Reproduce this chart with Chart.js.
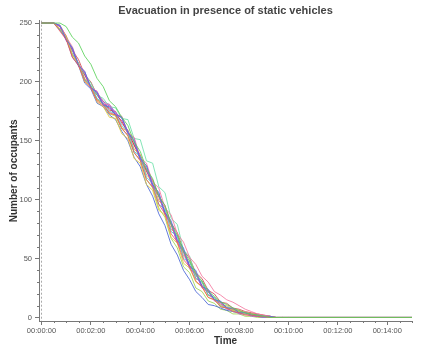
<!DOCTYPE html>
<html lang="en">
<head>
  <meta charset="UTF-8">
  <title>Evacuation in presence of static vehicles</title>
  <script src="https://cdn.jsdelivr.net/npm/chart.js"></script>
  <style>
    html, body { margin: 0; padding: 0; background: #fff; }
  </style>
</head>
<body>
  <canvas id="evacChart" width="433" height="352"></canvas>

  <script>
    // time in seconds since start of the evacuation
    const times = [0, 15, 30, 45, 60, 75, 90, 105, 120, 135, 150, 165, 180, 195, 210, 225, 240, 255, 270, 285,
                   300, 315, 330, 345, 360, 375, 390, 405, 420, 435, 450, 465, 480, 495, 510, 525, 540, 555, 570, 585, 600, 900];

    // occupants still inside, one array per simulation run
    const run01 = [250,250,250,250,247,238,233,222,215,203,196,184,179,170,163,149,141,126,118,103,95,79,70,56,48,37,31,22,18,13,11,8,6,4,3,2,1,0,0,0,0,0];
    const run02 = [250,250,250,243,236,221,214,201,195,184,180,174,172,161,154,140,133,117,111,96,88,71,64,49,43,31,26,17,15,9,8,5,4,2,2,1,1,0,0,0,0,0];
    const run03 = [250,250,250,248,236,229,214,209,195,191,180,179,172,170,157,150,135,129,113,106,89,82,66,59,43,40,26,24,15,14,8,8,4,4,2,2,1,1,0,0,0,0];
    const run04 = [250,250,250,245,238,223,215,200,196,183,179,170,169,156,152,135,131,113,108,91,87,68,63,46,42,30,26,17,15,10,8,6,5,3,2,2,1,0,0,0,0,0];
    const run05 = [250,250,250,247,236,228,214,208,195,192,181,180,173,170,156,152,134,129,112,106,88,80,63,57,41,37,25,22,14,12,7,6,3,3,1,1,0,0,0,0,0,0];
    const run06 = [250,250,250,244,238,224,216,202,197,186,182,175,173,163,158,141,137,119,114,96,92,73,69,50,47,33,30,19,17,10,9,6,5,3,2,1,1,0,0,0,0,0];
    const run07 = [250,250,250,248,238,230,215,209,195,192,181,181,172,171,157,153,136,131,115,110,93,87,71,64,51,45,35,30,22,19,15,13,10,7,5,3,2,1,0,0,0,0];
    const run08 = [250,250,250,245,239,223,216,203,197,185,182,173,172,161,158,143,138,121,116,99,94,75,70,52,48,33,30,19,17,11,10,7,6,4,3,2,1,1,0,0,0,0];
    const run09 = [250,250,250,248,237,229,215,207,199,189,186,179,178,169,168,152,151,133,131,111,106,84,79,57,52,35,31,19,16,9,8,5,4,3,2,1,0,0,0,0,0,0];
    const run10 = [250,250,250,244,237,221,214,199,194,182,179,172,168,158,150,136,128,113,103,88,78,62,53,40,32,22,17,11,10,8,6,5,4,3,2,1,0,0,0,0,0,0];
    const run11 = [250,250,250,247,235,228,213,208,196,191,183,181,174,169,158,149,135,126,111,103,87,79,63,55,42,37,26,22,15,13,8,7,5,4,2,2,1,0,0,0,0,0];
    const run12 = [250,250,250,248,239,227,219,206,200,189,184,176,175,165,159,146,138,124,117,103,95,80,72,57,50,38,33,23,20,13,12,8,7,5,4,3,2,1,0,0,0,0];
    const run13 = [250,250,250,244,237,223,215,202,196,185,181,173,171,160,155,140,134,117,110,93,85,67,59,43,38,25,22,14,12,7,6,3,3,1,1,0,0,0,0,0,0,0];
    const run14 = [250,250,250,247,236,227,214,206,195,189,181,178,172,167,156,147,134,125,112,103,89,79,65,56,44,37,27,22,15,13,8,7,5,4,3,2,1,1,0,0,0,0];

    const runs = [run01, run02, run03, run04, run05, run06, run07, run08, run09, run10, run11, run12, run13, run14];
    const runColors = [
      'rgba(90,210,90,0.85)', 'rgba(240,80,90,0.8)', 'rgba(70,110,230,0.8)', 'rgba(225,205,60,0.85)',
      'rgba(180,80,210,0.8)', 'rgba(60,195,210,0.8)', 'rgba(245,120,160,0.85)', 'rgba(240,150,60,0.8)',
      'rgba(110,225,170,0.85)', 'rgba(60,90,210,0.8)', 'rgba(150,100,220,0.8)', 'rgba(205,60,70,0.8)',
      'rgba(150,210,70,0.8)', 'rgba(185,50,120,0.9)'
    ];

    const xTicks = [0, 120, 240, 360, 480, 600, 720, 840];
    const yTicks = [0, 50, 100, 150, 200, 250];

    const tickFont = { family: 'Liberation Sans', size: 7.5 };
    const axisTitleFont = { family: 'Liberation Sans', size: 10, weight: 'bold' };

    function hms(sec) {
      const m = Math.floor(sec / 60);
      return '00:' + String(m).padStart(2, '0') + ':00';
    }

    // small minor tick marks (every 30 s and every 10 occupants)
    const minorTicks = {
      id: 'minorTicks',
      afterDraw(chart) {
        const { ctx, scales: { x, y } } = chart;
        ctx.save();
        ctx.strokeStyle = '#777';
        ctx.lineWidth = 1;
        ctx.beginPath();
        for (let s = 30; s <= 900; s += 30) {
          if (s % 120 === 0) continue;
          const px = Math.round(x.getPixelForValue(s)) + 0.5;
          ctx.moveTo(px, x.top);
          ctx.lineTo(px, x.top + 2);
        }
        for (let v = 10; v <= 250; v += 10) {
          if (v % 50 === 0) continue;
          const py = Math.round(y.getPixelForValue(v)) + 0.5;
          ctx.moveTo(y.right - 2, py);
          ctx.lineTo(y.right, py);
        }
        ctx.stroke();
        ctx.restore();
      }
    };

    const ctx = document.getElementById('evacChart').getContext('2d');
    const evacChart = new Chart(ctx, {
      type: 'line',
      data: {
        datasets: runs.map((run, i) => ({
          data: times.map((t, j) => ({ x: t, y: run[j] })),
          borderColor: runColors[i],
          borderWidth: 1,
          pointRadius: 0,
          fill: false,
          tension: 0
        }))
      },
      options: {
        responsive: false,
        animation: false,
        layout: { padding: { left: 0, right: 21, top: 0, bottom: 0 } },
        plugins: {
          legend: { display: false },
          tooltip: { enabled: false },
          title: {
            display: true,
            fullSize: false,
            text: 'Evacuation in presence of static vehicles',
            color: '#444',
            font: { family: 'Liberation Sans', size: 11, weight: 'bold' },
            padding: { top: 4, bottom: 3.5 }
          }
        },
        scales: {
          x: {
            type: 'linear',
            min: -6,
            max: 900,
            afterBuildTicks: s => { s.ticks = xTicks.map(v => ({ value: v })); },
            afterFit: s => { s.height = 31; },
            grid: {
              drawOnChartArea: true,
              color: c => (c.tick && c.tick.value === 0) ? '#aaa' : 'rgba(0,0,0,0)',
              tickColor: '#777',
              tickLength: 4
            },
            border: { display: true, color: '#777', dash: [2, 2] },
            ticks: {
              font: tickFont,
              color: '#555',
              padding: 1,
              maxRotation: 0,
              autoSkip: false,
              callback: v => hms(v)
            },
            title: {
              display: true,
              text: 'Time',
              color: '#333',
              font: axisTitleFont,
              padding: { top: 0, bottom: 5 }
            }
          },
          y: {
            min: -3,
            max: 252,
            afterBuildTicks: s => { s.ticks = yTicks.map(v => ({ value: v })); },
            afterFit: s => { s.width = 39; },
            grid: { drawOnChartArea: false, tickColor: '#777', tickLength: 4 },
            border: { display: true, color: '#777' },
            ticks: { font: tickFont, color: '#555', padding: 3 },
            title: {
              display: true,
              text: 'Number of occupants',
              color: '#333',
              font: axisTitleFont,
              padding: { top: 8, bottom: 0 }
            }
          }
        }
      },
      plugins: [minorTicks]
    });
  </script>
</body>
</html>
